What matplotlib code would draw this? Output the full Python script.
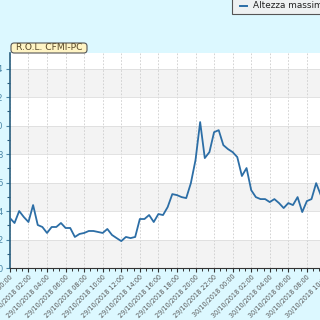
import matplotlib
matplotlib.use("Agg")
import matplotlib.pyplot as plt
import matplotlib.dates as mdates
from matplotlib.ticker import FixedLocator
from matplotlib.patches import FancyBboxPatch
import numpy as np
import pandas as pd

# valori (ogni 30 minuti dal 29/10/2018 00:00)
inizio = "2018-10-29 00:00"
altezza = [3.51, 3.16, 4.00, 3.58, 3.23, 4.42, 3.02, 2.88, 2.46, 2.88,
           2.88, 3.16, 2.81, 2.81, 2.18, 2.39, 2.46, 2.60, 2.60, 2.53,
           2.46, 2.74, 2.32, 2.10, 1.89, 2.18, 2.10, 2.18, 3.44, 3.44,
           3.72, 3.23, 3.79, 3.72, 4.28, 5.19, 5.12, 4.98, 4.91, 5.96,
           7.58, 10.25, 7.72, 8.14, 9.54, 9.68, 8.63, 8.35, 8.14, 7.79,
           6.46, 7.02, 5.47, 4.98, 4.84, 4.84, 4.63, 4.84, 4.56, 4.21,
           4.56, 4.42, 4.98, 3.93, 4.70, 4.84, 5.96, 5.12]
tempi = pd.date_range(inizio, periods=len(altezza), freq="30min")

titolo = "R.O.L. CFMI-PC"
etichetta = "Altezza massima"
y_ticks = [0, 2, 4, 6, 8, 10, 12, 14]

sfondo = "#dcf8ff"
blu = "#2c6ea6"

fig = plt.figure(figsize=(3.2, 3.2), dpi=100, facecolor=sfondo)
# l'asse esce a destra dalla figura (il grafico originale e' tagliato)
ax = fig.add_axes([9.9 / 320, 1 - 268 / 320, (340 - 9.9) / 320, (268 - 53) / 320])
ax.set_facecolor("white")

t0 = tempi[0]
ax.set_xlim(mdates.date2num(t0), mdates.date2num(t0 + pd.Timedelta(hours=35.57)))
ax.set_ylim(0, 15.1)

# bande grigie alternate
for b in y_ticks[::2]:
    ax.axhspan(b, b + 2, color="#f3f3f3", zorder=0, lw=0)

ax.plot(tempi, altezza, color=blu, lw=1.3, zorder=3)

ax.set_yticks(y_ticks)
ax.set_yticks(np.arange(1, 15, 2), minor=True)
ax.yaxis.grid(True, color="#dddddd", lw=0.6)
ax.xaxis.set_major_locator(mdates.HourLocator(byhour=range(0, 24, 2)))
minori = pd.date_range(t0, periods=60, freq="40min")
ax.xaxis.set_minor_locator(FixedLocator(mdates.date2num(minori)))
ax.xaxis.set_major_formatter(mdates.DateFormatter("%d/%m/%Y %H:%M"))
ax.xaxis.grid(True, color="#cccccc", lw=0.6, ls=(0, (2, 2)))
ax.set_axisbelow(True)

ax.tick_params(axis="y", labelsize=6, colors="#4a86a6", length=3, width=0.8,
               pad=2)
ax.tick_params(axis="y", which="minor", length=2, width=0.8, colors="#2a5f7f")
ax.tick_params(axis="x", labelsize=4.7, labelcolor="#555555", length=3,
               width=0.8, color="#333333", pad=1)
ax.tick_params(axis="x", which="minor", length=2, width=0.7, color="#333333")
for lab in ax.get_xticklabels():
    lab.set_rotation(45)
    lab.set_ha("right")
    lab.set_va("top")
    lab.set_rotation_mode("anchor")

for s in ["top", "right"]:
    ax.spines[s].set_visible(False)
ax.spines["left"].set_color("#2a5f7f")
ax.spines["left"].set_linewidth(1.2)
ax.spines["bottom"].set_color("#333333")
ax.spines["bottom"].set_linewidth(0.8)

# riquadro titolo
box = FancyBboxPatch((11 / 320, 1 - 53 / 320), 76 / 320, 10 / 320,
                     boxstyle="round,pad=0,rounding_size=0.01",
                     transform=fig.transFigure, facecolor="#fff4c4",
                     edgecolor="#555555", lw=0.8)
fig.patches.append(box)
fig.text(49 / 320, 1 - 48 / 320, titolo, fontsize=6.6, color="#5a4a2a",
         ha="center", va="center")

# legenda
leg = FancyBboxPatch((232 / 320, 1 - 14 / 320), 100 / 320, 16 / 320,
                     boxstyle="square,pad=0", transform=fig.transFigure,
                     facecolor="#eef1f2", edgecolor="#555555", lw=0.8)
fig.patches.append(leg)
fig.lines.append(plt.Line2D([240 / 320, 247 / 320], [1 - 6 / 320, 1 - 6 / 320],
                            transform=fig.transFigure, color=blu, lw=1.4))
fig.text(253 / 320, 1 - 6 / 320, etichetta, fontsize=6.4, color="#222222",
         ha="left", va="center")

fig.savefig("out.png", dpi=100, facecolor=sfondo)
